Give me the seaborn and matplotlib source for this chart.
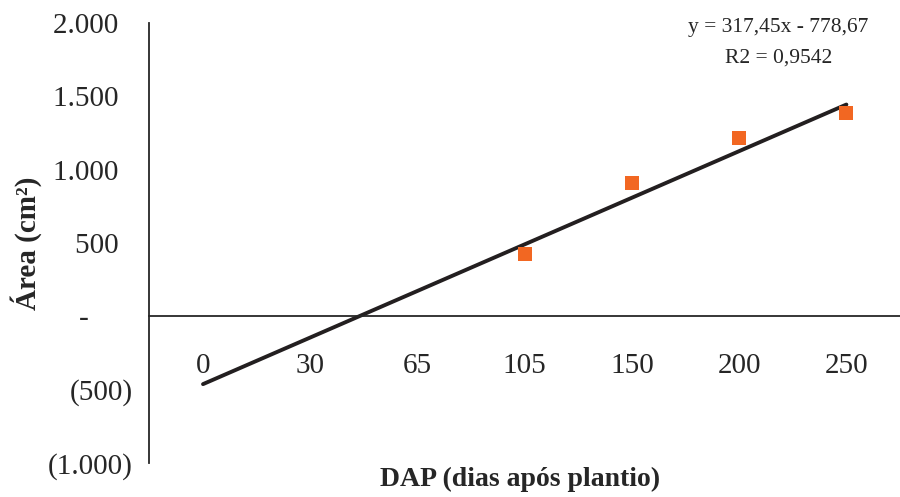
import numpy as np
import pandas as pd
import matplotlib
matplotlib.use("Agg")
import matplotlib.pyplot as plt
import seaborn as sns

# Data
categories = ["0", "30", "65", "105", "150", "200", "250"]
area = [np.nan, np.nan, np.nan, 427, 907, 1213, 1384]
slope = 317.45
intercept = -778.67
r2 = 0.9542
yticks = [-1000, -500, 0, 500, 1000, 1500, 2000]
ytick_labels = ["(1.000)", "(500)", "-      ", "500  ", "1.000  ", "1.500  ", "2.000  "]

sns.set_theme(style="white")
plt.rcParams["font.family"] = ["Liberation Serif", "DejaVu Serif"]

pos = np.arange(1, len(categories) + 1)
df = pd.DataFrame({"pos": pos, "cat": categories, "area": area})
trend = pd.DataFrame({"pos": pos, "fit": slope * pos + intercept})

fig = plt.figure(figsize=(9, 4.97), dpi=100)
ax = fig.add_axes([0.166, 0.068, 0.834, 0.886])

sns.lineplot(data=trend, x="pos", y="fit", ax=ax, color="#231f20", linewidth=2.8)
sns.scatterplot(data=df.dropna(), x="pos", y="area", ax=ax, marker="s", s=110,
                color="#F26722", edgecolor="#F26722", linewidth=0, zorder=3)

ax.set_xlim(0.5, 7.5)
ax.set_ylim(-1000, 2000)
ax.set_xticks(pos)
ax.set_xticklabels(categories)
ax.set_yticks(yticks)
ax.set_yticklabels(ytick_labels)

for s in ["top", "right"]:
    ax.spines[s].set_visible(False)
ax.spines["left"].set_color("#262626")
ax.spines["left"].set_linewidth(1.3)
ax.spines["bottom"].set_position(("data", 0))
ax.spines["bottom"].set_color("#262626")
ax.spines["bottom"].set_linewidth(1.3)

ax.tick_params(axis="x", length=0, pad=26, labelsize=21, colors="#262626")
ax.tick_params(axis="y", length=0, pad=12, labelsize=21, colors="#262626")

ax.set_xlabel("")
ax.set_ylabel("Área (cm²)", fontsize=21, fontweight="bold", color="#262626", labelpad=4)
fig.text(0.578, 0.036, "DAP (dias após plantio)", ha="center", va="center",
         fontsize=20, fontweight="bold", color="#262626")

ax.text(0.838, 0.989, f"y = {slope:.2f}x - {abs(intercept):.2f}".replace(".", ","),
        transform=ax.transAxes, ha="center", va="center", fontsize=15.5, color="#262626")
ax.text(0.838, 0.92, f"R2 = {r2:.4f}".replace(".", ","),
        transform=ax.transAxes, ha="center", va="center", fontsize=15.5, color="#262626")

fig.savefig("out.png", dpi=100)
